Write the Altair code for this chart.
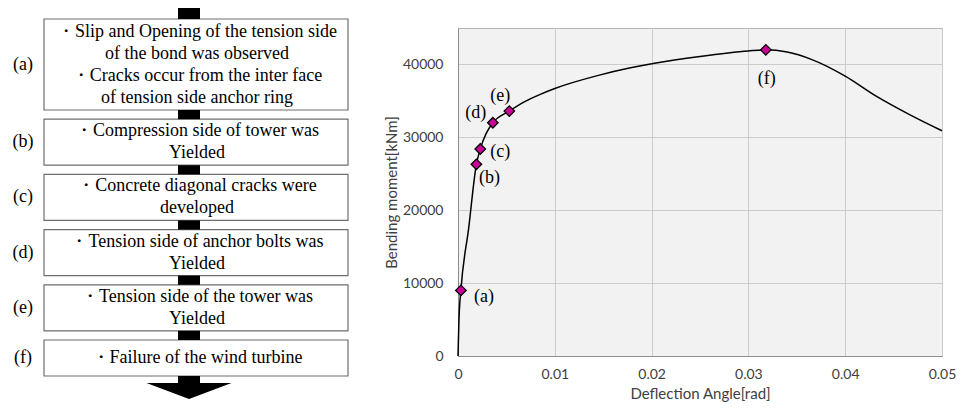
import altair as alt
import pandas as pd

# ---------------- data ----------------
stage_labels = ["(a)", "(b)", "(c)", "(d)", "(e)", "(f)"]
stage_lines = [
    ["・Slip and Opening of the tension side", "of the bond was observed",
     "・Cracks occur from the inter face", "of tension side anchor ring"],
    ["・Compression side of tower was", "Yielded"],
    ["・Concrete diagonal cracks were", "developed"],
    ["・Tension side of anchor bolts was", "Yielded"],
    ["・Tension side of the tower was", "Yielded"],
    ["・Failure of the wind turbine"],
]

curve_angle = [0, 0.0001, 0.0003, 0.0011, 0.0019, 0.0023, 0.0029, 0.0036, 0.0053,
               0.0069, 0.0085, 0.0100, 0.0145, 0.0177, 0.0203, 0.0250, 0.0300, 0.0318,
               0.0340, 0.0365, 0.0400, 0.0432, 0.0466, 0.0500]
curve_moment = [0, 5000, 9000, 17500, 26300, 28400, 30500, 32000, 33600,
                34900, 35900, 36700, 38500, 39500, 40170, 41100, 41850, 42000,
                41700, 40700, 38400, 35650, 33150, 30900]

event_labels = ["(a)", "(b)", "(c)", "(d)", "(e)", "(f)"]
event_angle = [0.0003, 0.0019, 0.0023, 0.0036, 0.0053, 0.0318]
event_moment = [9000, 26300, 28400, 32000, 33600, 42000]

x_ticks = [0, 0.01, 0.02, 0.03, 0.04, 0.05]
y_ticks = [0, 10000, 20000, 30000, 40000]

# ---------------- flowchart layout (page-like coordinates) ----------------
LEFT_W = 366
X0 = 8
Y_TOP, Y_BOT = 28, 403          # the view spans the plot rows of the right chart
BOX_L, BOX_R = 44, 348
ARROW_C, ARROW_HALF = 189, 11
LINE_H = 22
TOP = 19
GAP = 9.2

boxes, texts, conns, labels = [], [], [], []
conns.append({"x": ARROW_C - ARROW_HALF, "x2": ARROW_C + ARROW_HALF, "y": 8, "y2": TOP})
y = TOP
head = None
for lab, lines in zip(stage_labels, stage_lines):
    n = len(lines)
    h = max(22.5 * n + 1, 36)
    boxes.append({"x": BOX_L, "x2": BOX_R, "y": y, "y2": y + h})
    cy = y + h / 2
    labels.append({"x": 23, "y": cy, "t": lab})
    for i, ln in enumerate(lines):
        texts.append({"x": (BOX_L + BOX_R) / 2 + 1, "y": cy + (i - (n - 1) / 2) * LINE_H, "t": ln})
    y_next = y + h + GAP
    if lab != stage_labels[-1]:
        conns.append({"x": ARROW_C - ARROW_HALF, "x2": ARROW_C + ARROW_HALF, "y": y + h, "y2": y_next})
    else:
        conns.append({"x": ARROW_C - ARROW_HALF, "x2": ARROW_C + ARROW_HALF, "y": y + h, "y2": y + h + 8})
        head = {"x": ARROW_C, "y": y + h + 15}
    y = y_next

xs = alt.Scale(domain=[X0, X0 + LEFT_W], nice=False, zero=False)
ys = alt.Scale(domain=[Y_TOP, Y_BOT], nice=False, zero=False, reverse=True)
SERIF = "Liberation Serif"
FS = 18

box_layer = alt.Chart(pd.DataFrame(boxes)).mark_rect(
    fill="white", stroke="#6e6e6e", strokeWidth=1.2
).encode(x=alt.X("x:Q", scale=xs, axis=None), x2="x2", y=alt.Y("y:Q", scale=ys, axis=None), y2="y2")

conn_layer = alt.Chart(pd.DataFrame(conns)).mark_rect(fill="black").encode(
    x=alt.X("x:Q", scale=xs, axis=None), x2="x2", y=alt.Y("y:Q", scale=ys, axis=None), y2="y2")

head_layer = alt.Chart(pd.DataFrame([head])).mark_point(
    shape="M-1,-0.19L1,-0.19L0,0.19Z", filled=True, fill="black", opacity=1, size=7225, strokeWidth=0
).encode(x=alt.X("x:Q", scale=xs, axis=None), y=alt.Y("y:Q", scale=ys, axis=None))

text_layer = alt.Chart(pd.DataFrame(texts)).mark_text(
    font=SERIF, fontSize=FS, color="black", align="center", baseline="middle"
).encode(x=alt.X("x:Q", scale=xs, axis=None), y=alt.Y("y:Q", scale=ys, axis=None), text="t:N")

label_layer = alt.Chart(pd.DataFrame(labels)).mark_text(
    font=SERIF, fontSize=FS, color="black", align="center", baseline="middle"
).encode(x=alt.X("x:Q", scale=xs, axis=None), y=alt.Y("y:Q", scale=ys, axis=None), text="t:N")

left = alt.layer(box_layer, conn_layer, head_layer, text_layer, label_layer).properties(
    width=LEFT_W, height=Y_BOT - Y_TOP,
    view=alt.ViewBackground(stroke=None, fill=None),
)

# ---------------- line chart ----------------
curve_df = pd.DataFrame({"angle": curve_angle, "moment": curve_moment})
ev_df = pd.DataFrame({"angle": event_angle, "moment": event_moment, "label": event_labels})

SANS = "Lato"
xsc = alt.Scale(domain=[0, 0.05], nice=False, zero=False)
ysc = alt.Scale(domain=[0, 45000], nice=False)

x_enc = alt.X("angle:Q", scale=xsc, axis=alt.Axis(
    title="Deflection Angle[rad]", values=x_ticks, format="~g", grid=True,
    gridColor="#cccccc", ticks=False, tickSize=0, labelPadding=11,
    labelFont=SANS, labelFontSize=14, labelColor="#404040",
    titleFont=SANS, titleFontSize=15, titleFontWeight="normal", titleColor="#404040",
    titlePadding=5, domainColor="#8c8c8c", labelFlush=False))
y_enc = alt.Y("moment:Q", scale=ysc, axis=alt.Axis(
    title="Bending moment[kNm]", values=y_ticks, format="d", grid=True,
    gridColor="#cccccc", ticks=False, tickSize=0, labelPadding=15,
    labelFont=SANS, labelFontSize=14, labelColor="#404040",
    titleFont=SANS, titleFontSize=15, titleFontWeight="normal", titleColor="#404040",
    titlePadding=3, domainColor="#8c8c8c"))

line = alt.Chart(curve_df).mark_line(color="black", strokeWidth=1.5, interpolate="monotone").encode(
    x=x_enc, y=y_enc)
pts = alt.Chart(ev_df).mark_point(
    shape="diamond", filled=True, fill="#CC0099", stroke="black", strokeWidth=1.3, size=110, opacity=1
).encode(x="angle:Q", y="moment:Q")

offsets = {"(a)": (23, 7), "(b)": (13, 14), "(c)": (20, 3), "(d)": (-17, -10),
           "(e)": (-9, -15), "(f)": (1, 29)}
lab_layers = []
for lab in event_labels:
    dx, dy = offsets[lab]
    lab_layers.append(
        alt.Chart(ev_df).transform_filter(alt.datum.label == lab).mark_text(
            font=SERIF, fontSize=FS, color="black", dx=dx, dy=dy,
            align="center", baseline="middle"
        ).encode(x="angle:Q", y="moment:Q", text="label:N")
    )

right = alt.layer(line, pts, *lab_layers).properties(
    width=484, height=328,
    view=alt.ViewBackground(fill="#f2f2f2", stroke="#b3b3b3", strokeWidth=1),
)

chart = alt.hconcat(left, right, spacing=9).properties(
    padding={"left": 0, "top": 0, "right": 0, "bottom": 0}
).configure_concat(spacing=9)

chart.save("out.html", embed_options={"renderer": "svg", "actions": False})
